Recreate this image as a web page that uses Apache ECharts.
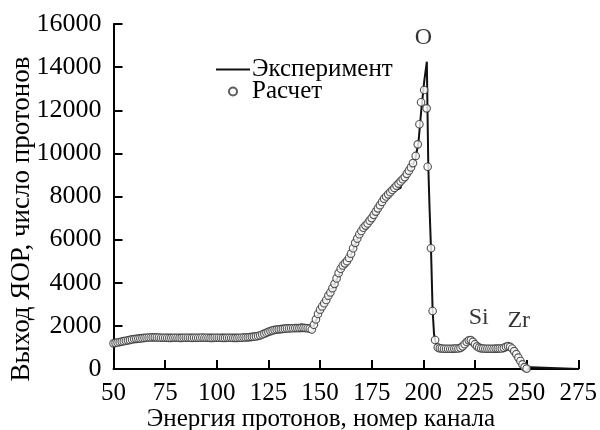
<!DOCTYPE html>
<html>
<head>
<meta charset="utf-8">
<script src="https://cdn.jsdelivr.net/npm/echarts@6/dist/echarts.min.js"></script>
<style>
html,body{margin:0;padding:0;background:#fff;}
#c{width:600px;height:430px;}
</style>
</head>
<body>
<div id="c"></div>
<script>
// Experiment (line): channel / yield
var expX = [50,55,60,65,70,75,80,85,90,95,100,105,110,112,113,114,118,120,122,125,128,130,135,139,140,141,142,145,146,147,150,153,156,159,160,161,162,165,168,171,174,177,180,183,186,188,189,190,192,194,196,197.6,199,200.5,201.7,202.0,202.4,203,203.7,204.5,205.2,205.8,206.5,207.5,210,215,218,220,222,223,225,227,230,235,238,240,241,243,245,247,248,249,249.5,275];
var expY = [1200,1290,1390,1440,1470,1450,1450,1450,1450,1450,1450,1450,1440,1500,1620,1470,1500,1530,1600,1720,1810,1840,1880,1900,2000,2080,1950,1880,1860,2000,2700,3150,3700,4350,4500,4900,5000,5300,6000,6500,6850,7250,7700,8050,8300,8350,8400,8800,9000,9300,9700,10470,12000,13400,14250,12100,9400,7500,5600,2700,1600,1300,1050,960,940,940,980,1150,1330,1340,1150,990,940,940,950,1030,1060,950,690,370,210,90,0,0];

// Calculation (circles): channel / yield
var calcX = [50,51,52,53,54,55,56,57,58,59,60,61,62,63,64,65,66,67,68,69,70,71,72,73,74,75,76,77,78,79,80,81,82,83,84,85,86,87,88,89,90,91,92,93,94,95,96,97,98,99,100,101,102,103,104,105,106,107,108,109,110,111,112,113,114,115,116,117,118,119,120,121,122,123,124,125,126,127,128,129,130,131,132,133,134,135,136,137,138,139,140,141,142,143,144,145,146,147,148,149,150,151,152,153,154,155,156,157,158,159,160,161,162,163,164,165,166,167,168,169,170,171,172,173,174,175,176,177,178,179,180,181,182,183,184,185,186,187,188,189,190,191,192,193,194,195,196.3,197.3,198.1,198.9,200.4,201.6,202.1,203.7,204.5,205.7,207,208,209,210,211,212,213,214,215,216,217,218,219,220,221,222,223,224,225,226,227,228,229,230,231,232,233,234,235,236,237,238,239,240,241,242,243,244,245,246,247,248,249,250];
var calcY = [1190,1210,1230,1250,1270,1290,1310,1330,1350,1370,1390,1400,1410,1420,1430,1440,1450,1460,1460,1470,1470,1460,1460,1450,1450,1450,1450,1440,1440,1450,1450,1450,1440,1440,1450,1450,1450,1450,1440,1450,1450,1450,1450,1460,1450,1450,1450,1440,1440,1450,1450,1450,1450,1440,1440,1450,1450,1450,1440,1440,1440,1450,1450,1460,1460,1470,1480,1490,1500,1510,1530,1560,1600,1640,1680,1720,1760,1790,1810,1830,1840,1850,1860,1870,1880,1880,1890,1890,1900,1900,1900,1910,1910,1900,1890,1870,1830,2050,2300,2550,2750,2900,3050,3200,3400,3550,3750,3950,4200,4450,4650,4800,4900,5000,5150,5350,5600,5850,6050,6250,6400,6550,6650,6750,6880,7000,7150,7300,7450,7600,7750,7900,8000,8100,8200,8300,8400,8500,8600,8700,8800,8900,9050,9200,9350,9550,9880,10420,11350,12370,12940,12090,9380,5600,2690,1345,1000,960,950,940,940,940,940,940,945,950,950,980,1050,1150,1250,1330,1340,1260,1150,1050,990,960,950,940,940,940,940,940,945,945,950,950,980,1030,1060,1030,950,830,690,530,370,210,90,20];

var xTicks = {min: 50, max: 275, step: 25};
var yTicks = {min: 0, max: 16000, step: 2000};
var seriesNames = ['Эксперимент', 'Расчет'];
var peakLabels = [
  {text: 'O', x: 200, y: 15350},
  {text: 'Si', x: 226.8, y: 2400},
  {text: 'Zr', x: 246.2, y: 2250}
];

var FONT = '"Liberation Serif", "Times New Roman", serif';
var chart = echarts.init(document.getElementById('c'), null, {renderer: 'canvas'});

function pairs(xs, ys) { return xs.map(function (x, i) { return [x, ys[i]]; }); }

var option = {
  animation: false,
  backgroundColor: '#fff',
  grid: {left: 113.5, right: 19.3, top: 24, bottom: 61, containLabel: false},
  legend: {
    orient: 'vertical', left: 211, top: 52, itemWidth: 34, itemHeight: 8, itemGap: -3,
    textStyle: {fontFamily: FONT, fontSize: 25, color: '#000', padding: [0, 0, 0, -3]},
    data: [
      {name: seriesNames[0], icon: 'path://M0,0 L34,0 L34,2 L0,2 Z', itemStyle: {color: '#111'}},
      {name: seriesNames[1]}
    ]
  },
  xAxis: {
    type: 'value', min: xTicks.min, max: xTicks.max, interval: xTicks.step,
    axisLine: {lineStyle: {color: '#000', width: 2}},
    axisTick: {inside: true, length: 9, lineStyle: {color: '#000', width: 2}},
    axisLabel: {fontFamily: FONT, fontSize: 25, color: '#000', margin: 12},
    splitLine: {show: false}
  },
  yAxis: {
    type: 'value', min: yTicks.min, max: yTicks.max, interval: yTicks.step,
    axisLine: {show: true, lineStyle: {color: '#000', width: 2}},
    axisTick: {show: true, inside: true, length: 9, lineStyle: {color: '#000', width: 2}},
    axisLabel: {fontFamily: FONT, fontSize: 26, color: '#000', margin: 12, formatter: function (v) { return String(v); }},
    splitLine: {show: false}
  },
  series: [
    {
      name: seriesNames[0], type: 'line', data: pairs(expX, expY), symbol: 'none',
      lineStyle: {color: '#111', width: 2}, itemStyle: {color: '#111'}, z: 2
    },
    {
      name: seriesNames[1], type: 'scatter', data: pairs(calcX, calcY), symbol: 'circle', symbolSize: 7.5,
      itemStyle: {color: '#fff', borderColor: '#333', borderWidth: 1.2}, z: 3
    },
    {
      type: 'scatter', data: peakLabels.map(function (p) { return [p.x, p.y]; }), symbolSize: 0,
      silent: true, z: 5,
      label: {
        show: true, position: 'inside', fontFamily: FONT, fontSize: 24, color: '#000',
        formatter: function (p) { return peakLabels[p.dataIndex].text; }
      }
    }
  ],
  graphic: [
    {type: 'text', x: 321, y: 419, style: {text: 'Энергия протонов, номер канала', font: '25px ' + FONT, fill: '#000', align: 'center', verticalAlign: 'middle'}},
    {type: 'text', x: 22, y: 219, rotation: Math.PI / 2, style: {text: 'Выход ЯОР, число протонов', font: '27px ' + FONT, fill: '#000', align: 'center', verticalAlign: 'middle'}}
  ]
};
chart.setOption(option);
</script>
</body>
</html>
